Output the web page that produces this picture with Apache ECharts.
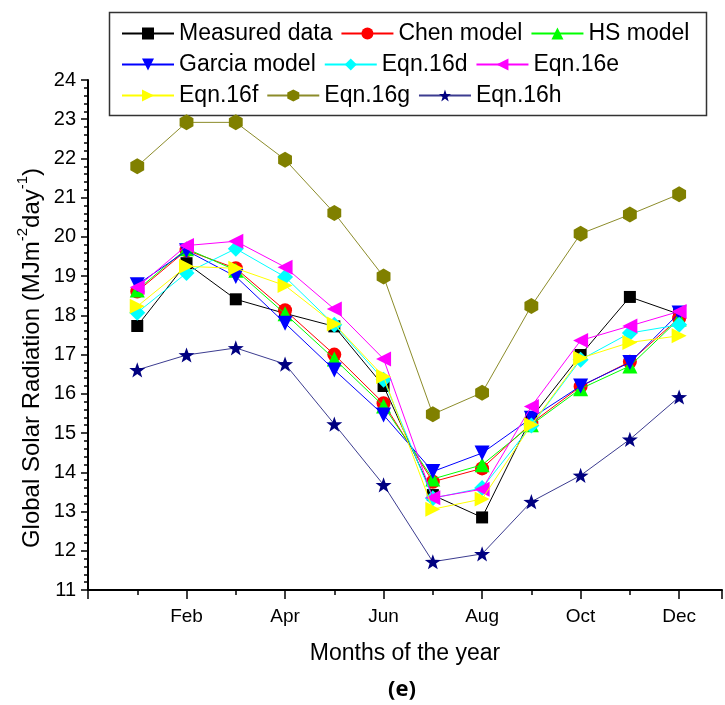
<!DOCTYPE html>
<html>
<head>
<meta charset="utf-8">
<script src="https://cdn.jsdelivr.net/npm/echarts@6/dist/echarts.min.js"></script>
<style>
html,body{margin:0;padding:0;background:#fff;}
#chart{width:725px;height:705px;}
</style>
</head>
<body>
<div id="chart"></div>
<script>
const months = [1,2,3,4,5,6,7,8,9,10,11,12];
const monthTickLabels = {2:'Feb',4:'Apr',6:'Jun',8:'Aug',10:'Oct',12:'Dec'};
const yTicks = [11,12,13,14,15,16,17,18,19,20,21,22,23,24];

const measured = [17.73,19.33,18.41,18.05,17.72,16.2,13.42,12.85,15.39,16.99,18.47,18.03];
const chen     = [18.61,19.66,19.2,18.13,17.0,15.76,13.76,14.1,15.25,16.19,16.82,17.93];
const hs       = [18.65,19.7,19.15,18.04,16.89,15.69,13.83,14.19,15.21,16.13,16.71,17.91];
const garcia   = [18.78,19.65,18.99,17.8,16.61,15.46,14.02,14.49,15.38,16.2,16.8,18.06];
const eqn16d   = [18.07,19.08,19.7,18.98,17.76,16.36,13.34,13.6,15.19,16.87,17.55,17.76];
const eqn16e   = [18.72,19.78,19.89,19.23,18.16,16.89,13.35,13.57,15.68,17.36,17.73,18.1];
const eqn16f   = [18.23,19.25,19.2,18.76,17.78,16.44,13.06,13.32,15.21,16.91,17.31,17.48];
const eqn16g   = [21.8,22.92,22.92,21.97,20.61,18.99,15.48,16.03,18.24,20.08,20.57,21.09];
const eqn16h   = [16.61,16.99,17.17,16.76,15.23,13.68,11.72,11.92,13.25,13.92,14.84,15.92];

const seriesNames = ['Measured data','Chen model','HS model','Garcia model','Eqn.16d','Eqn.16e','Eqn.16f','Eqn.16g','Eqn.16h'];
const seriesValues = [measured,chen,hs,garcia,eqn16d,eqn16e,eqn16f,eqn16g,eqn16h];

const hexagon = 'path://M0,-10 L8.66,-5 L8.66,5 L0,10 L-8.66,5 L-8.66,-5 Z';
const star = 'path://M0,-10 L2.35,-3.24 L9.51,-3.09 L3.8,1.24 L5.88,8.09 L0,4 L-5.88,8.09 L-3.8,1.24 L-9.51,-3.09 L-2.35,-3.24 Z';
const styles = [
  {color:'#000000', symbol:'rect', size:12, rot:0},
  {color:'#ff0000', symbol:'circle', size:14, rot:0},
  {color:'#00ff00', symbol:'triangle', size:15, rot:0},
  {color:'#0000ff', symbol:'triangle', size:15, rot:180},
  {color:'#00ffff', symbol:'diamond', size:16, rot:0},
  {color:'#ff00ff', symbol:'triangle', size:15, rot:90},
  {color:'#ffff00', symbol:'triangle', size:15, rot:-90},
  {color:'#808000', symbol:hexagon, size:16, rot:0, line:'#8c8c2a'},
  {color:'#000080', symbol:star, size:16, rot:0, line:'#3c3c90'}
];

const series = seriesNames.map((name,i)=>({
  name: name,
  type: 'line',
  data: months.map((m,j)=>[m, seriesValues[i][j]]),
  symbol: styles[i].symbol,
  symbolSize: styles[i].size,
  symbolRotate: styles[i].rot,
  symbolKeepAspect: true,
  itemStyle: {color: styles[i].color},
  lineStyle: {color: styles[i].line || styles[i].color, width: 1},
  emphasis: {disabled: true},
  animation: false,
  z: 2 + i
}));

const FONT = 'Liberation Sans, Arial, sans-serif';
const chart = echarts.init(document.getElementById('chart'), null, {renderer:'canvas'});
const legendBase = {
  orient: 'horizontal',
  left: 121,
  itemWidth: 52,
  itemHeight: 15,
  itemGap: 8,
  padding: 0,
  selectedMode: false,
  textStyle: {fontFamily: FONT, fontSize: 23, color: '#000'}
};
chart.setOption({
  backgroundColor: '#fff',
  animation: false,
  grid: {left: 88, right: 0, top: 80, bottom: 115, containLabel: false},
  legend: [
    Object.assign({}, legendBase, {top: 22, data: seriesNames.slice(0,3)}),
    Object.assign({}, legendBase, {top: 53, data: seriesNames.slice(3,6)}),
    Object.assign({}, legendBase, {top: 84, data: seriesNames.slice(6,9)})
  ],
  xAxis: {
    type: 'value',
    min: 0, max: 12.87, interval: 2,
    name: 'Months of the year',
    nameLocation: 'middle',
    nameGap: 52,
    nameTextStyle: {fontFamily: FONT, fontSize: 23, color: '#000'},
    axisLine: {lineStyle: {color: '#000', width: 2}},
    axisTick: {show: true, inside: false, length: 9, lineStyle: {color: '#000', width: 1.5}},
    minorTick: {show: true, splitNumber: 2, length: 5, lineStyle: {color: '#000', width: 1.5}},
    axisLabel: {
      margin: 17,
      fontFamily: FONT, fontSize: 19, color: '#000',
      formatter: v => monthTickLabels[v] || ''
    },
    splitLine: {show: false}
  },
  yAxis: {
    type: 'value',
    min: yTicks[0], max: yTicks[yTicks.length-1], interval: 1,
    axisLine: {show: true, lineStyle: {color: '#000', width: 2}},
    axisTick: {show: true, inside: false, length: 7, lineStyle: {color: '#000', width: 1.5}},
    minorTick: {show: true, splitNumber: 5, length: 4, lineStyle: {color: '#000', width: 1.5}},
    axisLabel: {margin: 12, fontFamily: FONT, fontSize: 20, color: '#000'},
    splitLine: {show: false}
  },
  graphic: [
    {type: 'rect', left: 107, top: 10, shape: {width: 597, height: 103}, style: {fill: 'none', stroke: '#333', lineWidth: 1.5}, z: 0},
    {type: 'text', x: 30, y: 358, rotation: Math.PI/2,
      style: {
        text: '{a|Global Solar Radiation (MJm}{s|-2}{a|day}{s|-1}{a|)}',
        align: 'center', verticalAlign: 'middle',
        rich: {
          a: {fontFamily: FONT, fontSize: 24, fill: '#000', lineHeight: 29, verticalAlign: 'bottom'},
          s: {fontFamily: FONT, fontSize: 15, fill: '#000', lineHeight: 29, verticalAlign: 'top'}
        }
      }
    },
    {type: 'text', x: 402, y: 690,
      style: {text: '(e)', align: 'center', verticalAlign: 'middle', font: 'bold 22px "Open Sans", "Liberation Sans", sans-serif', fill: '#000'}}
  ],
  series: series
});
</script>
</body>
</html>
